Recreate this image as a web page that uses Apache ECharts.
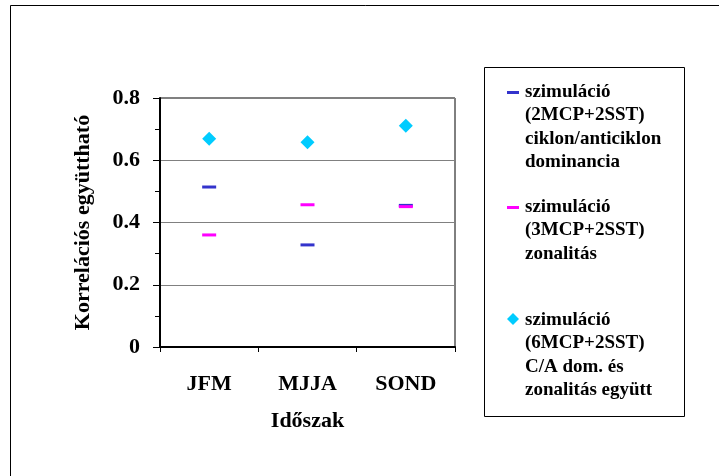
<!DOCTYPE html>
<html>
<head>
<meta charset="utf-8">
<script src="https://cdn.jsdelivr.net/npm/echarts@6/dist/echarts.min.js"></script>
<style>
  html, body { margin: 0; padding: 0; background: #ffffff; }
  #chart { width: 719px; height: 476px; }
</style>
</head>
<body>
<div id="chart"></div>
<script>
// Seasons (periods)
const categories = ['JFM', 'MJJA', 'SOND'];

// Correlation coefficients per simulation
const ciklonValues = [0.514, 0.328, 0.455];    // 2MCP+2SST, cyclone/anticyclone dominance
const zonalValues = [0.360, 0.457, 0.451];     // 3MCP+2SST, zonality
const combinedValues = [0.669, 0.658, 0.711];  // 6MCP+2SST, both together

// Y-axis ticks
const yTicks = [0, 0.2, 0.4, 0.6, 0.8];

// Legend entries (multi-line labels)
const legendLabels = [
  'szimuláció\n(2MCP+2SST)\nciklon/anticiklon\ndominancia',
  'szimuláció\n(3MCP+2SST)\nzonalitás',
  'szimuláció\n(6MCP+2SST)\nC/A dom. és\nzonalitás együtt'
];

const FONT = '"Liberation Serif", "Times New Roman", serif';
const colors = ['#3333CC', '#FF00FF', '#00CCFF'];

const chart = echarts.init(document.getElementById('chart'), null, { renderer: 'canvas' });

const legendTextStyle = {
  fontFamily: FONT,
  fontWeight: 'bold',
  fontSize: 19,
  lineHeight: 23.5,
  fill: '#000'
};

const axisFont = { fontFamily: FONT, fontWeight: 'bold', fontSize: 22, color: '#000' };

chart.setOption({
  animation: false,
  backgroundColor: '#ffffff',
  grid: {
    left: 160, top: 98, right: 264, bottom: 129,
    show: true, borderColor: '#000', borderWidth: 1, backgroundColor: 'transparent'
  },
  xAxis: {
    type: 'category',
    data: categories,
    boundaryGap: true,
    name: 'Időszak',
    nameLocation: 'middle',
    nameGap: 63,
    nameTextStyle: axisFont,
    axisLine: { lineStyle: { color: '#000', width: 2 } },
    axisTick: { show: true, length: 5, lineStyle: { color: '#000' } },
    axisLabel: Object.assign({ margin: 26 }, axisFont),
    splitLine: { show: false }
  },
  yAxis: {
    type: 'value',
    min: yTicks[0],
    max: yTicks[yTicks.length - 1],
    interval: yTicks[1] - yTicks[0],
    name: 'Korrelációs együttható',
    nameLocation: 'middle',
    nameGap: 66,
    nameTextStyle: axisFont,
    axisLine: { show: true, lineStyle: { color: '#000', width: 2 } },
    axisTick: { show: true, length: 7, lineStyle: { color: '#000' } },
    minorTick: { show: true, splitNumber: 2, length: 5, lineStyle: { color: '#000' } },
    axisLabel: Object.assign({
      margin: 20,
      formatter: v => (v === 0 ? '0' : String(+v.toFixed(1)))
    }, axisFont),
    splitLine: { show: true, lineStyle: { color: '#808080', width: 1 } }
  },
  series: [
    {
      name: 'ciklon', type: 'scatter', data: ciklonValues,
      symbol: 'rect', symbolSize: [14, 3],
      itemStyle: { color: colors[0], opacity: 1 }
    },
    {
      name: 'zonal', type: 'scatter', data: zonalValues,
      symbol: 'rect', symbolSize: [14, 3],
      itemStyle: { color: colors[1], opacity: 1 }
    },
    {
      name: 'combined', type: 'scatter', data: combinedValues,
      symbol: 'diamond', symbolSize: 14,
      itemStyle: { color: colors[2], opacity: 1 }
    }
  ],
  graphic: [
    // outer chart frame
    { type: 'rect', shape: { x: 10.5, y: 5.5, width: 800, height: 600 },
      style: { fill: 'none', stroke: '#000', lineWidth: 1 }, silent: true },
    // legend box
    { type: 'rect', shape: { x: 484.5, y: 67.5, width: 200, height: 349 },
      style: { fill: '#fff', stroke: '#000', lineWidth: 1 }, silent: true },
    { type: 'rect', shape: { x: 507, y: 91, width: 12, height: 3 },
      style: { fill: colors[0] }, silent: true },
    { type: 'text', left: 525, top: 80, style: Object.assign({ text: legendLabels[0] }, legendTextStyle) },
    { type: 'rect', shape: { x: 507, y: 206, width: 12, height: 3 },
      style: { fill: colors[1] }, silent: true },
    { type: 'text', left: 525, top: 195, style: Object.assign({ text: legendLabels[1] }, legendTextStyle) },
    { type: 'polygon', shape: { points: [[513, 313], [519, 319], [513, 325], [507, 319]] },
      style: { fill: colors[2] }, silent: true },
    { type: 'text', left: 525, top: 308, style: Object.assign({ text: legendLabels[2] }, legendTextStyle) }
  ]
});
</script>
</body>
</html>
